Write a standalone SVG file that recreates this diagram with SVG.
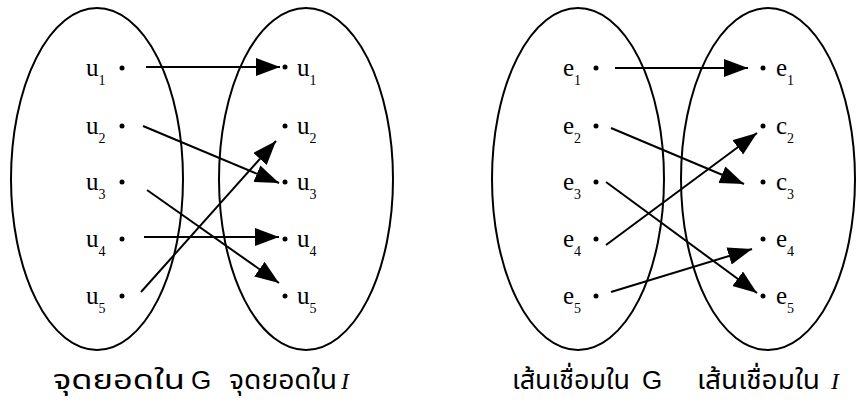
<svg xmlns="http://www.w3.org/2000/svg" width="864" height="406" viewBox="0 0 864 406">
<style>
.set{fill:none;stroke:#000;stroke-width:2}
.dot{fill:#000}
.lbl{font-family:"Liberation Serif","Times New Roman",serif;font-size:25px;fill:#000}
.sub{font-size:14px}
.edge{fill:none;stroke:#000;stroke-width:2}
.cap{font-family:"Noto Sans Thai","Noto Sans","DejaVu Sans",sans-serif;font-size:26px;fill:#000}
.capg{font-family:"Liberation Sans",Arial,sans-serif;font-size:26px;fill:#000}
.capi{font-family:"Liberation Serif","Times New Roman",serif;font-style:italic;font-size:24px;fill:#000}
</style>
<defs>
<marker id="ah" markerUnits="userSpaceOnUse" markerWidth="26" markerHeight="22" refX="24" refY="9" orient="auto">
<path d="M0,0 L24,9 L0,18 Z" fill="#000"/>
</marker>
</defs>
<rect width="864" height="406" fill="#fff"/>
<g id="setL1"><ellipse class="set" cx="97" cy="179" rx="86" ry="171"/></g>
<g id="setL2"><ellipse class="set" cx="306" cy="179" rx="87" ry="171"/></g>
<g id="setR1"><ellipse class="set" cx="578" cy="179" rx="86" ry="171"/></g>
<g id="setR2"><ellipse class="set" cx="768" cy="179" rx="87" ry="171"/></g>

<g id="Lu1"><circle class="dot" cx="122" cy="68" r="2.5"/><text class="lbl" x="86" y="76">u<tspan class="sub" dy="9">1</tspan></text></g>
<g id="Lu2"><circle class="dot" cx="122" cy="126" r="2.5"/><text class="lbl" x="86" y="134">u<tspan class="sub" dy="9">2</tspan></text></g>
<g id="Lu3"><circle class="dot" cx="122" cy="182" r="2.5"/><text class="lbl" x="86" y="190">u<tspan class="sub" dy="9">3</tspan></text></g>
<g id="Lu4"><circle class="dot" cx="122" cy="239" r="2.5"/><text class="lbl" x="86" y="247">u<tspan class="sub" dy="9">4</tspan></text></g>
<g id="Lu5"><circle class="dot" cx="122" cy="296" r="2.5"/><text class="lbl" x="86" y="304">u<tspan class="sub" dy="9">5</tspan></text></g>

<g id="Ru1"><circle class="dot" cx="285" cy="67" r="2.5"/><text class="lbl" x="297" y="76">u<tspan class="sub" dy="9">1</tspan></text></g>
<g id="Ru2"><circle class="dot" cx="285" cy="126" r="2.5"/><text class="lbl" x="297" y="134">u<tspan class="sub" dy="9">2</tspan></text></g>
<g id="Ru3"><circle class="dot" cx="285" cy="182" r="2.5"/><text class="lbl" x="297" y="190">u<tspan class="sub" dy="9">3</tspan></text></g>
<g id="Ru4"><circle class="dot" cx="285" cy="239" r="2.5"/><text class="lbl" x="297" y="247">u<tspan class="sub" dy="9">4</tspan></text></g>
<g id="Ru5"><circle class="dot" cx="285" cy="296" r="2.5"/><text class="lbl" x="297" y="304">u<tspan class="sub" dy="9">5</tspan></text></g>

<g id="Le1"><circle class="dot" cx="596" cy="68" r="2.5"/><text class="lbl" x="563" y="76">e<tspan class="sub" dy="9">1</tspan></text></g>
<g id="Le2"><circle class="dot" cx="596" cy="126" r="2.5"/><text class="lbl" x="563" y="134">e<tspan class="sub" dy="9">2</tspan></text></g>
<g id="Le3"><circle class="dot" cx="596" cy="182" r="2.5"/><text class="lbl" x="563" y="190">e<tspan class="sub" dy="9">3</tspan></text></g>
<g id="Le4"><circle class="dot" cx="596" cy="239" r="2.5"/><text class="lbl" x="563" y="247">e<tspan class="sub" dy="9">4</tspan></text></g>
<g id="Le5"><circle class="dot" cx="596" cy="296" r="2.5"/><text class="lbl" x="563" y="304">e<tspan class="sub" dy="9">5</tspan></text></g>

<g id="Re1"><circle class="dot" cx="763" cy="68" r="2.5"/><text class="lbl" x="776" y="76">e<tspan class="sub" dy="9">1</tspan></text></g>
<g id="Re2"><circle class="dot" cx="763" cy="126" r="2.5"/><text class="lbl" x="776" y="134">c<tspan class="sub" dy="9">2</tspan></text></g>
<g id="Re3"><circle class="dot" cx="763" cy="182" r="2.5"/><text class="lbl" x="776" y="190">c<tspan class="sub" dy="9">3</tspan></text></g>
<g id="Re4"><circle class="dot" cx="763" cy="239" r="2.5"/><text class="lbl" x="776" y="247">e<tspan class="sub" dy="9">4</tspan></text></g>
<g id="Re5"><circle class="dot" cx="763" cy="296" r="2.5"/><text class="lbl" x="776" y="304">e<tspan class="sub" dy="9">5</tspan></text></g>

<g id="connectors">
<line class="edge" x1="146" y1="67" x2="280" y2="67" marker-end="url(#ah)"/>
<line class="edge" x1="143" y1="126" x2="279" y2="183" marker-end="url(#ah)"/>
<line class="edge" x1="147" y1="190" x2="279" y2="283" marker-end="url(#ah)"/>
<line class="edge" x1="144" y1="237" x2="279" y2="237" marker-end="url(#ah)"/>
<line class="edge" x1="141" y1="292" x2="276" y2="141" marker-end="url(#ah)"/>

<line class="edge" x1="615" y1="68" x2="748" y2="68" marker-end="url(#ah)"/>
<line class="edge" x1="611" y1="128" x2="744" y2="184" marker-end="url(#ah)"/>
<line class="edge" x1="606" y1="182" x2="757" y2="293" marker-end="url(#ah)"/>
<line class="edge" x1="606" y1="245" x2="757" y2="133" marker-end="url(#ah)"/>
<line class="edge" x1="611" y1="292" x2="752" y2="249" marker-end="url(#ah)"/>
</g>

<g id="captions">
<text class="cap" x="53" y="389" textLength="132" lengthAdjust="spacingAndGlyphs">จุดยอดใน</text>
<text class="capg" x="191" y="389">G</text>
<text class="cap" x="229" y="389" textLength="108" lengthAdjust="spacingAndGlyphs">จุดยอดใน</text>
<text class="capi" x="341" y="389">I</text>
<text class="cap" x="512" y="389" textLength="118" lengthAdjust="spacingAndGlyphs">เส้นเชื่อมใน</text>
<text class="capg" x="642" y="389">G</text>
<text class="cap" x="697" y="389" textLength="123" lengthAdjust="spacingAndGlyphs">เส้นเชื่อมใน</text>
<text class="capi" x="831" y="389">I</text>
</g>
</svg>
